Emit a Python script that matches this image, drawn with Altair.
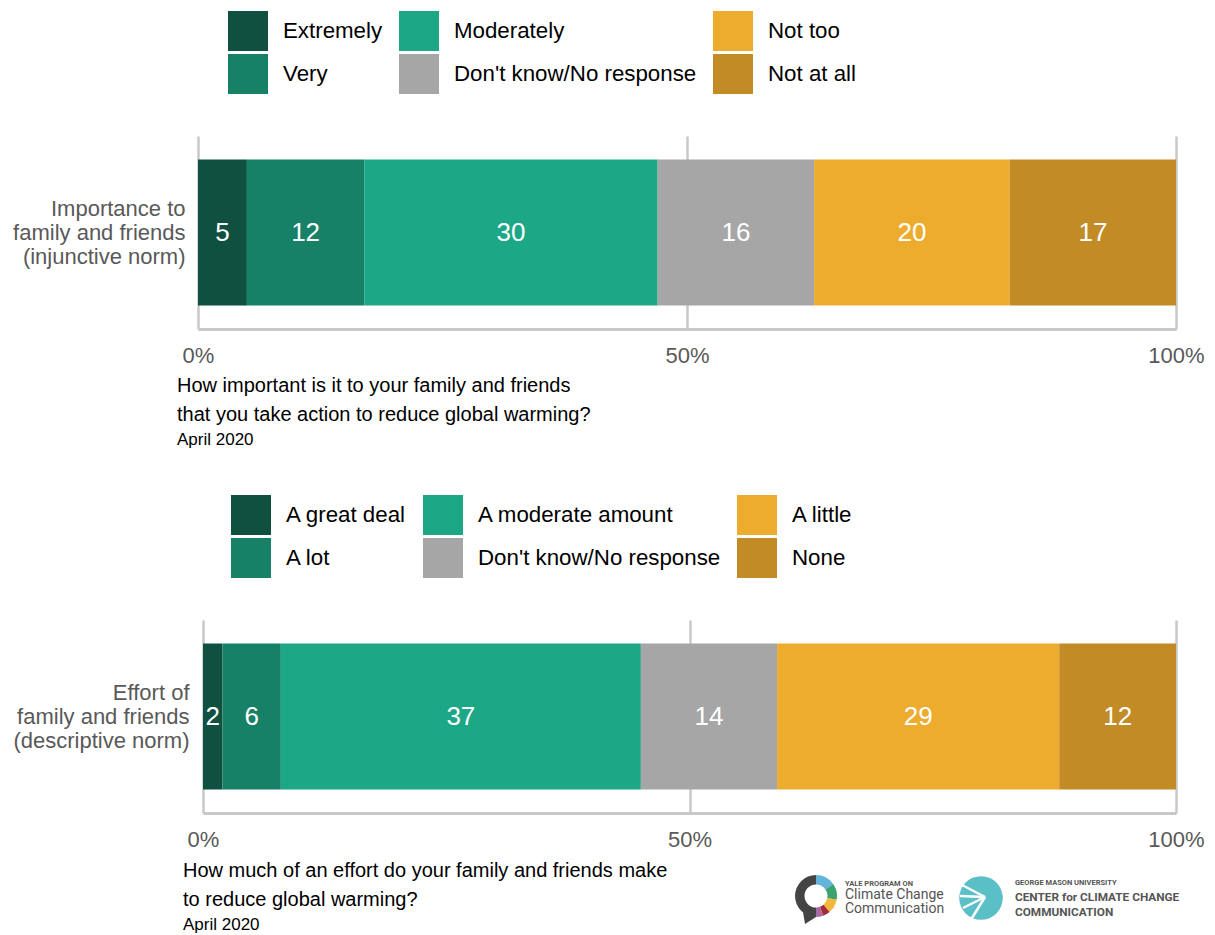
import altair as alt
import pandas as pd

FONT = "Liberation Sans"

# ---- data ----
q_labels = ["Importance to|family and friends|(injunctive norm)",
            "Effort of|family and friends|(descriptive norm)"]
cats1 = ["Extremely", "Very", "Moderately", "Don't know/No response", "Not too", "Not at all"]
vals1 = [5, 12, 30, 16, 20, 17]
cats2 = ["A great deal", "A lot", "A moderate amount", "Don't know/No response", "A little", "None"]
vals2 = [2, 6, 37, 14, 29, 12]
colors = ["#0f5040", "#178168", "#1ca886", "#a6a6a6", "#edac2e", "#c28b26"]
x_ticks = [0, 50, 100]
questions = ["How important is it to your family and friends\nthat you take action to reduce global warming?",
             "How much of an effort do your family and friends make\nto reduce global warming?"]
dates = ["April 2020", "April 2020"]

yale_texts = ["YALE PROGRAM ON", "Climate Change", "Communication"]
gmu_texts = ["GEORGE MASON UNIVERSITY", "CENTER for CLIMATE CHANGE", "COMMUNICATION"]
yale_seg_start = [0.0, 0.96, 1.75, 2.44, 2.79, 3.14]
yale_seg_end = [0.96, 1.75, 2.44, 2.79, 3.14, 6.2832]
yale_seg_color = ["#62b5d9", "#3aa36f", "#f0b83e", "#a52a35", "#a86aa0", "#444444"]


def one_text(txt, x, y, size, color="#555555", weight="normal", font=FONT, align="left"):
    return alt.Chart(pd.DataFrame({"t": [txt]})).mark_text(
        align=align, baseline="middle", fontSize=size, color=color,
        fontWeight=weight, font=font
    ).encode(x=alt.value(x), y=alt.value(y), text="t:N")


def panel(q, cats, vals, width, height, x_range, legend_x, legend_y, label_pad,
          question, date, cap_x, cap_y, date_y, logos=False):
    df = pd.DataFrame({"q": [q] * len(cats), "cat": cats, "val": vals,
                       "idx": list(range(len(cats)))})
    base = alt.Chart(df).transform_stack(
        stack="val", groupby=["q"], as_=["x0", "x1"],
        sort=[alt.SortField("idx", order="ascending")]
    ).transform_calculate(mid="(datum.x0 + datum.x1) / 2")

    y_enc = alt.Y("q:N", title=None,
                  scale=alt.Scale(paddingInner=0, paddingOuter=0.16),
                  axis=alt.Axis(labelExpr="split(datum.label, '|')", labelFontSize=22,
                                labelColor="#595959", labelLineHeight=24, labelOffset=-24,
                                labelPadding=label_pad, ticks=False, domain=False,
                                grid=False, labelLimit=400, labelFont=FONT))
    x_enc = alt.X("x0:Q", title=None,
                  scale=alt.Scale(domain=[0, 100], nice=False, range=x_range),
                  axis=alt.Axis(values=x_ticks, labelExpr="datum.value + '%'", grid=True,
                                gridColor="#c8c8c8", gridWidth=2.5, domainColor="#c8c8c8",
                                domainWidth=3, ticks=False, tickSize=0, labelFontSize=22,
                                labelColor="#595959", labelPadding=16, labelFlush=False,
                                labelFont=FONT))
    bars = base.mark_bar().encode(
        x=x_enc, x2="x1:Q", y=y_enc,
        color=alt.Color("cat:N", scale=alt.Scale(domain=cats, range=colors),
                        legend=alt.Legend(title=None, orient="none", legendX=legend_x,
                                          legendY=legend_y, columns=3, symbolType="square",
                                          symbolSize=1600, symbolStrokeWidth=0,
                                          symbolOpacity=1,
                                          labelFontSize=22.3, labelColor="black",
                                          labelFont=FONT, rowPadding=3, columnPadding=16,
                                          labelOffset=15, gridAlign="each", padding=0,
                                          labelLimit=400)),
    )
    labels = base.mark_text(color="white", fontSize=26, font=FONT).encode(
        x="mid:Q", y="q:N", text="val:Q")

    cap = alt.Chart(pd.DataFrame({"t": [question]})).mark_text(
        align="left", baseline="alphabetic", fontSize=20, lineBreak="\n", lineHeight=29,
        color="black", font=FONT
    ).encode(x=alt.value(cap_x), y=alt.value(cap_y), text="t:N")
    dt = alt.Chart(pd.DataFrame({"t": [date]})).mark_text(
        align="left", baseline="alphabetic", fontSize=17, color="black", font=FONT
    ).encode(x=alt.value(cap_x), y=alt.value(date_y), text="t:N")

    layers = [bars, labels, cap, dt]

    if logos:
        seg = pd.DataFrame({"a0": yale_seg_start, "a1": yale_seg_end, "c": yale_seg_color})
        ring = alt.Chart(seg).mark_arc(radius=21, radius2=11.5).encode(
            theta=alt.Theta("a0:Q", scale=None, stack=False), theta2="a1:Q",
            color=alt.Color("c:N", scale=None),
            x=alt.value(618), y=alt.value(276))
        tail = alt.Chart(pd.DataFrame({"t": ["tail"]})).mark_point(
            shape="M-0.6,-0.9L0.8,0.2L-0.3,0.9Z", filled=True, size=400,
            color="#444444", opacity=1
        ).encode(x=alt.value(610), y=alt.value(295))
        circ = alt.Chart(pd.DataFrame({"t": ["gmu"]})).mark_point(
            shape="circle", filled=True, size=1900, color="#5bbfc8", opacity=1
        ).encode(x=alt.value(783), y=alt.value(278))
        rays = []
        for (ex, ey) in [(764, 265), (762, 276), (765, 288), (774, 298)]:
            rays.append(alt.Chart(pd.DataFrame({"t": ["r"]})).mark_rule(
                color="white", strokeWidth=2.5
            ).encode(x=alt.value(787), y=alt.value(277), x2=alt.value(ex), y2=alt.value(ey)))
        layers += [ring, tail, circ] + rays
        layers += [
            one_text(yale_texts[0], 647, 264, 7.5, weight="bold", font="Roboto"),
            one_text(yale_texts[1], 647, 275, 14, font="Roboto"),
            one_text(yale_texts[2], 647, 289, 14, font="Roboto"),
            one_text(gmu_texts[0], 817, 263, 7.5, weight="bold", font="Roboto"),
            one_text(gmu_texts[1], 817, 277, 11.8, weight="bold", font="Roboto"),
            one_text(gmu_texts[2], 817, 292, 11.8, weight="bold", font="Roboto"),
        ]

    return alt.layer(*layers).properties(width=width, height=height)


top = panel(q_labels[0], cats1, vals1, 978, 193, [0, 978], 30, -125, 13,
            questions[0], dates[0], -21, 256, 309)
bottom = panel(q_labels[1], cats2, vals2, 978, 193, [5, 978], 33, -125, 9,
               questions[1], dates[1], -15, 257, 310, logos=True)

chart = alt.vconcat(top, bottom, spacing=47,
                    padding={"left": 4, "top": 3, "right": 0, "bottom": 0}).resolve_scale(
    color="independent", x="independent", y="independent"
).resolve_legend(color="independent").configure(font=FONT).configure_view(stroke=None)

chart.save("out.html", embed_options={"renderer": "svg", "actions": False})
